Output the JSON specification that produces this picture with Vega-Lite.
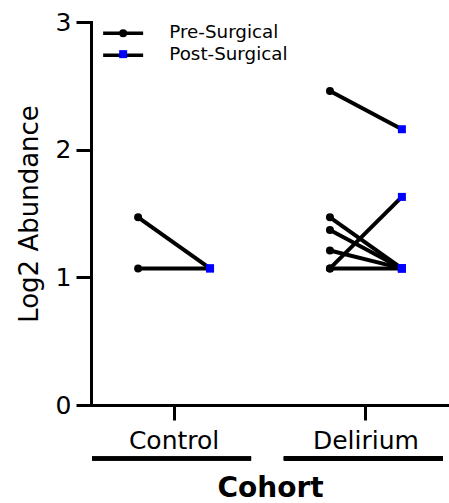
{
  "$schema": "https://vega.github.io/schema/vega-lite/v6.json",
  "autosize": "none",
  "width": 358,
  "height": 383,
  "padding": {"left": 91, "top": 22, "right": 0, "bottom": 98},
  "background": "white",
  "config": {
    "font": "DejaVu Sans",
    "view": {"stroke": null},
    "axis": {"grid": false, "domainColor": "black", "domainWidth": 3, "domainCap": "square", "tickColor": "black", "tickWidth": 3, "tickSize": 15, "labelColor": "black", "titleColor": "black"}
  },
  "data": {
    "values": [
      {"Subject": "C1", "Cohort": "Control", "Time": "Pre-Surgical", "Abundance": 1.47},
      {"Subject": "C1", "Cohort": "Control", "Time": "Post-Surgical", "Abundance": 1.07},
      {"Subject": "C2", "Cohort": "Control", "Time": "Pre-Surgical", "Abundance": 1.07},
      {"Subject": "C2", "Cohort": "Control", "Time": "Post-Surgical", "Abundance": 1.07},
      {"Subject": "D1", "Cohort": "Delirium", "Time": "Pre-Surgical", "Abundance": 2.46},
      {"Subject": "D1", "Cohort": "Delirium", "Time": "Post-Surgical", "Abundance": 2.16},
      {"Subject": "D2", "Cohort": "Delirium", "Time": "Pre-Surgical", "Abundance": 1.07},
      {"Subject": "D2", "Cohort": "Delirium", "Time": "Post-Surgical", "Abundance": 1.63},
      {"Subject": "D3", "Cohort": "Delirium", "Time": "Pre-Surgical", "Abundance": 1.47},
      {"Subject": "D3", "Cohort": "Delirium", "Time": "Post-Surgical", "Abundance": 1.07},
      {"Subject": "D4", "Cohort": "Delirium", "Time": "Pre-Surgical", "Abundance": 1.37},
      {"Subject": "D4", "Cohort": "Delirium", "Time": "Post-Surgical", "Abundance": 1.07},
      {"Subject": "D5", "Cohort": "Delirium", "Time": "Pre-Surgical", "Abundance": 1.21},
      {"Subject": "D5", "Cohort": "Delirium", "Time": "Post-Surgical", "Abundance": 1.07},
      {"Subject": "D6", "Cohort": "Delirium", "Time": "Pre-Surgical", "Abundance": 1.07},
      {"Subject": "D6", "Cohort": "Delirium", "Time": "Post-Surgical", "Abundance": 1.07}
    ]
  },
  "encoding": {
    "x": {
      "field": "Cohort", "type": "nominal", "title": "Cohort",
      "scale": {"paddingInner": 0.5, "paddingOuter": 0.183},
      "axis": {"labelAngle": 0, "labelFontSize": 25, "labelPadding": 8, "titleFontSize": 28, "titleFontWeight": "bold", "titlePadding": 21}
    }
  },
  "layer": [
    {
      "mark": {"type": "rule", "strokeWidth": 4, "xOffset": -82, "x2Offset": 77},
      "encoding": {
        "y": {"datum": -0.42, "type": "quantitative", "title": "Log2 Abundance", "scale": {"domain": [0, 3], "nice": false}},
        "x2": {"field": "Cohort"},
        "stroke": {
          "field": "Time", "type": "nominal", "sort": ["Pre-Surgical", "Post-Surgical"],
          "scale": {"range": ["black", "black"]},
          "legend": {"orient": "none", "legendX": 23, "legendY": 2, "title": null, "padding": 0, "symbolType": "M-5,0H5", "symbolSize": 64, "symbolStrokeWidth": 3.5, "labelFontSize": 18.3, "labelColor": "black", "labelOffset": 37, "rowPadding": 3, "zindex": 0}
        }
      }
    },
    {
      "mark": {"type": "line", "strokeWidth": 4, "color": "black"},
      "encoding": {
        "y": {"field": "Abundance", "type": "quantitative", "title": "Log2 Abundance", "scale": {"domain": [0, 3], "nice": false}, "axis": {"values": [0, 1, 2, 3], "format": "d", "labelFontSize": 25, "labelPadding": 5, "titleFontSize": 26, "titleFontWeight": "normal", "titlePadding": 13}},
        "xOffset": {"field": "Time", "type": "nominal", "sort": ["Pre-Surgical", "Post-Surgical"], "scale": {"paddingInner": 1, "paddingOuter": 0.1667}},
        "detail": {"field": "Subject"}
      }
    },
    {
      "mark": {"type": "point", "filled": true, "opacity": 1, "size": 64, "strokeWidth": 0},
      "encoding": {
        "y": {"field": "Abundance", "type": "quantitative", "title": "Log2 Abundance", "scale": {"domain": [0, 3], "nice": false}},
        "xOffset": {"field": "Time", "type": "nominal", "sort": ["Pre-Surgical", "Post-Surgical"], "scale": {"paddingInner": 1, "paddingOuter": 0.1667}},
        "fill": {
          "field": "Time", "type": "nominal",
          "scale": {"domain": ["Pre-Surgical", "Post-Surgical"], "range": ["black", "#0000ff"]},
          "legend": {"orient": "none", "legendX": 23, "legendY": 2, "title": null, "padding": 0, "symbolSize": 64, "symbolStrokeWidth": 3.5, "symbolStrokeColor": "transparent", "labelFontSize": 18.3, "labelOpacity": 0, "labelOffset": 37, "rowPadding": -3, "zindex": 1}
        },
        "shape": {
          "field": "Time", "type": "nominal",
          "scale": {"domain": ["Pre-Surgical", "Post-Surgical"], "range": ["circle", "square"]}
        }
      }
    }
  ]
}
